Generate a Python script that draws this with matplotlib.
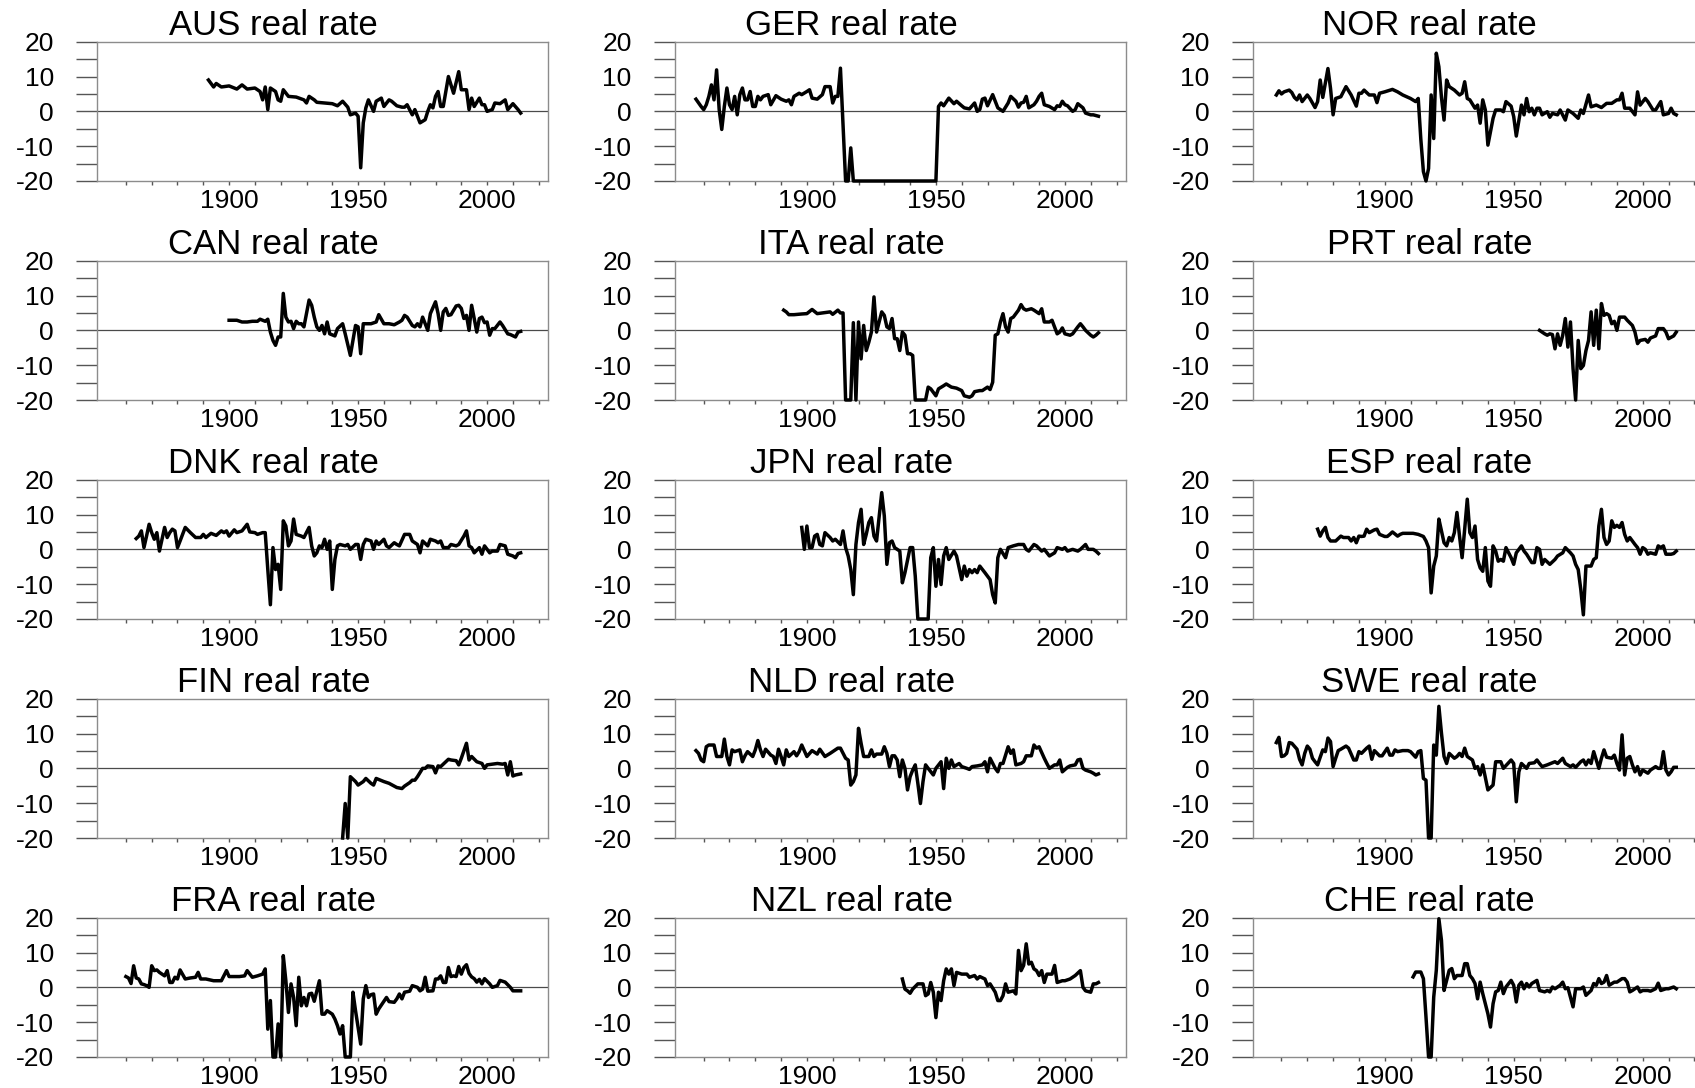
import matplotlib.pyplot as plt

plt.rcParams['font.family'] = ['Liberation Sans', 'DejaVu Sans']
plt.rcParams['axes.unicode_minus'] = False

# (year, real rate in %); values below -20 sit on the axis floor
aus = [(1892, 9), (1894, 7), (1895, 8), (1897, 7), (1900, 7.3), (1903, 6.4), (1905, 7.6), (1907, 6.4),
       (1910, 6.7), (1912, 5.7), (1913, 3.3), (1914, 7), (1915, 0.5), (1916, 6.7), (1918, 5.7), (1919, 3.3),
       (1920, 2.9), (1921, 6.2), (1923, 4.3), (1926, 4.1), (1929, 3.3), (1930, 2.4), (1931, 4.3), (1933, 3.3),
       (1934, 2.6), (1937, 2.4), (1940, 2.2), (1942, 1.6), (1944, 2.9), (1946, 1.2), (1947, -1), (1949, -0.5),
       (1950, -1.4), (1951, -16.2), (1952, -3.3), (1953, 1), (1954, 3.3), (1956, 0), (1957, 2.9), (1959, 3.8),
       (1960, 1.4), (1962, 3.3), (1963, 2.9), (1965, 1.6), (1967, 1.2), (1968, 1.2), (1969, 1.9), (1971, -1),
       (1972, 0.5), (1974, -3.3), (1976, -2.4), (1977, 0), (1978, 1.9), (1979, 1), (1980, 4.3), (1981, 5.7),
       (1982, 1.4), (1983, 1.4), (1985, 10), (1987, 5.2), (1989, 11.4), (1990, 6.2), (1992, 6.2), (1993, 0.5),
       (1994, 3.8), (1995, 1.4), (1997, 3.8), (1998, 1.9), (1999, 1.9), (2000, 0), (2002, 0.5), (2003, 2.4),
       (2005, 2.2), (2007, 3.3), (2008, 0.5), (2010, 2.2), (2012, 0.5), (2013, -0.5)]

can = [(1900, 2.9), (1903, 2.9), (1905, 2.4), (1907, 2.4), (1909, 2.6), (1911, 2.6), (1912, 3.2), (1914, 2.6),
       (1915, 3.2), (1916, -0.5), (1917, -2.9), (1918, -4.3), (1919, -1.9), (1920, -1.9), (1921, 10.6),
       (1922, 3.8), (1923, 2.4), (1924, 2.6), (1925, 0.5), (1926, 2.6), (1927, 1.9), (1928, 1.9), (1929, 1),
       (1931, 8.7), (1932, 7.2), (1933, 3.8), (1934, 1), (1935, 0), (1936, 1.4), (1937, -1), (1938, 2.4),
       (1939, -1), (1941, -1.6), (1942, 0.5), (1944, 1.9), (1945, -1), (1947, -7.2), (1949, 1.4), (1950, 1),
       (1951, -6.7), (1952, 1.9), (1953, 1.9), (1955, 1.9), (1957, 2.4), (1958, 4.5), (1960, 1.9), (1962, 1.9),
       (1964, 1.6), (1966, 2.4), (1967, 2.9), (1968, 4.3), (1969, 3.8), (1971, 1.4), (1972, 1), (1973, 1.9),
       (1974, 1), (1975, 3.8), (1977, 0), (1978, 4.8), (1980, 8.2), (1981, 4.8), (1982, 0), (1983, 5.3),
       (1984, 6.3), (1985, 4.3), (1986, 4.5), (1988, 7), (1989, 7.2), (1990, 6.3), (1991, 3.4), (1992, 4.3),
       (1993, 0), (1994, 7.2), (1995, 3.4), (1996, -0.5), (1997, 3.4), (1998, 3.8), (1999, 2.2), (2000, 2.4),
       (2001, -1.4), (2002, 0.5), (2003, 0.5), (2005, 2.4), (2006, 1.4), (2008, -1), (2009, -1.2), (2011, -1.9),
       (2012, -0.5), (2013, -0.3)]

dnk = [(1864, 3.1), (1865, 3.8), (1866, 5.3), (1867, 0.5), (1868, 3.8), (1869, 7.2), (1870, 4.8), (1871, 2.9),
       (1872, 4.8), (1873, -0.5), (1874, 2.9), (1875, 6.3), (1876, 3.4), (1877, 4.8), (1878, 5.8), (1879, 5.3),
       (1880, 0.5), (1881, 2.4), (1883, 6.3), (1885, 4.8), (1887, 3.4), (1889, 3.4), (1890, 4.3), (1891, 3.4),
       (1893, 4.6), (1895, 4), (1897, 5.3), (1898, 4.8), (1899, 5.3), (1900, 3.8), (1902, 5.6), (1903, 4.8),
       (1905, 5.3), (1907, 7.2), (1908, 5), (1910, 4.8), (1911, 4.3), (1913, 4.8), (1914, 4.8), (1915, -5.8),
       (1916, -15.9), (1917, 0.5), (1918, -5.8), (1919, -4.3), (1920, -11.5), (1921, 8.2), (1922, 6.7),
       (1923, 1), (1924, 2.4), (1925, 8.7), (1926, 4.3), (1928, 3.8), (1929, 3.4), (1931, 6.3), (1932, 1),
       (1933, -1.9), (1934, -1), (1935, 1), (1936, 0.5), (1937, 2.9), (1938, 0), (1939, 2.4), (1940, -11.5),
       (1941, -2.9), (1942, 1), (1943, 1.4), (1945, 1), (1946, 1.4), (1947, 0), (1949, 1.4), (1950, 1.4),
       (1951, -2.9), (1952, 1.4), (1953, 2.9), (1955, 2.4), (1956, 0), (1957, 2.4), (1958, 1.4), (1960, 2.9),
       (1961, 1), (1962, 0.5), (1964, 1.9), (1965, 1.4), (1966, 1), (1968, 4.3), (1970, 4.3), (1971, 2.4),
       (1973, 1.4), (1974, -1), (1975, 2.4), (1977, 1), (1978, 2.9), (1980, 2.4), (1981, 1.9), (1982, 2.4),
       (1983, 0.5), (1985, 0.5), (1986, 1.4), (1988, 1), (1989, 1.4), (1991, 3.8), (1992, 5.3), (1993, 1),
       (1994, 0.5), (1995, -1), (1997, 0.5), (1998, -1.4), (1999, 1), (2001, -1), (2002, -0.5), (2004, -0.5),
       (2005, 1.4), (2007, 1), (2008, -1.4), (2010, -1.9), (2011, -2.4), (2012, -1.2), (2013, -1)]

fin = [(1944, -20), (1945, -10.1), (1946, -20), (1947, -2.4), (1949, -3.8), (1950, -4.8), (1952, -3.8),
       (1953, -2.9), (1955, -4.3), (1956, -4.8), (1957, -2.9), (1960, -3.8), (1962, -4.3), (1964, -5.1),
       (1965, -5.5), (1967, -5.8), (1968, -5.1), (1970, -4.1), (1971, -3.4), (1972, -3.4), (1973, -2.4),
       (1975, 0), (1976, 0), (1977, 0.7), (1979, 0.5), (1980, -1.3), (1981, 0.7), (1982, 0.5), (1984, 1.9),
       (1985, 2.6), (1986, 2.4), (1988, 2.2), (1989, 1), (1990, 2.9), (1992, 7.2), (1993, 2.4), (1994, 3.4),
       (1996, 1.9), (1998, 1.4), (1999, 0), (2000, 1), (2002, 1.2), (2004, 1.4), (2006, 1.2), (2007, 1.4),
       (2008, -1.9), (2009, 1.9), (2010, -2.2), (2011, -1.9), (2013, -1.6)]

fra = [(1860, 3.1), (1861, 2.7), (1862, 1.1), (1863, 6.2), (1864, 2.7), (1865, 2.4), (1866, 1), (1867, 0.8),
       (1868, 0.5), (1869, 0), (1870, 6.2), (1871, 4.8), (1872, 5), (1873, 4.3), (1875, 3.3), (1876, 4.8),
       (1877, 1.4), (1878, 1.4), (1879, 2.9), (1880, 2.4), (1881, 5), (1883, 2.4), (1885, 2.7), (1887, 2.9),
       (1888, 4.3), (1889, 2.4), (1891, 2.4), (1894, 1.9), (1897, 1.9), (1899, 4.8), (1900, 3.1), (1904, 3.1),
       (1906, 3.3), (1907, 4.8), (1909, 2.9), (1911, 3.3), (1913, 3.8), (1914, 5.3), (1915, -12), (1916, -3.8),
       (1917, -20), (1918, -20), (1919, -10.5), (1920, -20), (1921, 9.1), (1922, 1.9), (1923, -7.2), (1924, 1),
       (1925, -2.9), (1926, -11), (1927, 2.9), (1928, -5.3), (1929, -2.9), (1930, -5.3), (1931, -1.9),
       (1932, -1.7), (1933, -4), (1935, 1.9), (1936, -7.7), (1937, -7.7), (1938, -6.7), (1940, -7.7),
       (1941, -9.1), (1942, -11), (1943, -13.4), (1944, -11), (1945, -20), (1947, -20), (1948, -1.4),
       (1949, -6.7), (1951, -16.3), (1952, -3.3), (1953, 0.5), (1954, -2.9), (1955, -2.1), (1956, -1.9),
       (1957, -7.7), (1958, -6.2), (1960, -4), (1961, -2.9), (1962, -4.1), (1964, -4.3), (1965, -3.3),
       (1966, -1.9), (1967, -3.3), (1968, -1.4), (1970, -1.1), (1971, 0.5), (1973, 0), (1974, -1), (1975, -0.5),
       (1976, 2.9), (1977, -1.1), (1979, -1), (1980, 2.4), (1981, 2.4), (1982, 3.3), (1983, 1.4), (1984, 1.4),
       (1985, 5.7), (1986, 3.1), (1987, 3.3), (1988, 3.1), (1989, 6), (1990, 3.8), (1991, 5.7), (1992, 6.5),
       (1993, 4), (1994, 3), (1995, 2.5), (1996, 1.5), (1997, 2.3), (1998, 1), (1999, 2.5), (2001, 1),
       (2002, 0), (2004, 0.5), (2005, 2), (2007, 1.5), (2009, 0), (2010, -1), (2012, -1), (2013, -1)]

ger = [(1857, 3.5), (1859, 1.4), (1860, 0.5), (1861, 1.9), (1862, 4.3), (1863, 7.6), (1864, 3.3), (1865, 11.9),
       (1866, 0.5), (1867, -5.2), (1868, 1.4), (1869, 6.7), (1870, 1.9), (1871, 0.5), (1872, 4.3), (1873, -1),
       (1874, 4.8), (1875, 6.7), (1876, 3.3), (1877, 3.3), (1878, 5.7), (1879, 1.4), (1880, 1.4), (1881, 4.3),
       (1882, 3.3), (1883, 4.3), (1885, 4.8), (1886, 1.9), (1888, 4.5), (1890, 3.5), (1892, 2.9), (1893, 3.3),
       (1894, 1.9), (1895, 4.3), (1897, 5.2), (1898, 4.8), (1900, 5.7), (1901, 6.2), (1902, 3.8), (1904, 3.5),
       (1906, 4.8), (1907, 7.1), (1909, 7.1), (1910, 2.4), (1911, 4.3), (1912, 4.3), (1913, 12.4), (1915, -20),
       (1916, -20), (1917, -10.5), (1918, -20), (1950, -20), (1951, 1.4), (1952, 2.4), (1953, 1.6), (1955, 3.8),
       (1957, 2.2), (1958, 2.9), (1960, 1.6), (1961, 1), (1963, 0.7), (1965, 2.4), (1966, 0), (1967, 0.5),
       (1968, 3.5), (1969, 3.8), (1970, 1.6), (1972, 4.8), (1973, 2.9), (1974, 1), (1976, 0), (1978, 2.4),
       (1979, 4.3), (1981, 2.9), (1982, 1.2), (1983, 2.4), (1984, 2.6), (1985, 4.3), (1986, 1), (1988, 1.9),
       (1989, 2.9), (1990, 4.3), (1991, 5.2), (1992, 1.9), (1994, 1.4), (1996, 0.5), (1997, 1.6), (1998, 1.4),
       (1999, 2.9), (2000, 1.9), (2001, 1.6), (2003, 0), (2004, 0.5), (2005, 2.2), (2007, 1), (2008, -0.5),
       (2010, -1), (2011, -1), (2013, -1.4)]

ita = [(1891, 5.8), (1892, 5.3), (1893, 4.5), (1895, 4.5), (1898, 4.7), (1900, 4.8), (1902, 6), (1904, 4.8),
       (1907, 5.1), (1909, 5.3), (1910, 4.6), (1912, 5.8), (1913, 5), (1914, 5), (1915, -20), (1917, -20),
       (1918, 2.2), (1919, -20), (1920, 2.4), (1921, -8.2), (1922, 1.4), (1923, -5.8), (1924, -3.4),
       (1925, -0.5), (1926, 9.6), (1927, -0.5), (1929, 5.3), (1930, 4.3), (1931, 1), (1932, 0.5), (1933, 3.4),
       (1934, -2.4), (1935, -2.4), (1936, -5.8), (1937, -0.5), (1938, -1.4), (1939, -6.7), (1940, -6.7),
       (1941, -7.2), (1942, -20), (1946, -20), (1947, -16.3), (1948, -16.8), (1950, -18.8), (1951, -16.8),
       (1953, -15.9), (1954, -15.4), (1956, -16.3), (1958, -16.6), (1960, -17.3), (1961, -18.8), (1963, -19.2),
       (1964, -18.8), (1965, -17.6), (1967, -17.3), (1968, -17.3), (1970, -16.3), (1971, -17), (1972, -14.9),
       (1973, -1.4), (1974, -1), (1975, 2.4), (1976, 4.8), (1977, 1), (1978, -0.5), (1979, 3.4), (1980, 3.8),
       (1982, 5.8), (1983, 7.4), (1984, 6.2), (1985, 5.8), (1987, 6.2), (1988, 5.8), (1990, 4.8), (1991, 6.2),
       (1992, 2.4), (1994, 2.4), (1995, 2.9), (1997, -1), (1998, -0.5), (1999, 0.7), (2000, -1), (2002, -1.4),
       (2003, -1), (2005, 1), (2006, 1.9), (2007, 1), (2008, 0), (2010, -1.4), (2011, -1.9), (2012, -1.4),
       (2013, -0.7)]

jpn = [(1898, 6.3), (1899, 0), (1900, 6.7), (1901, 0.5), (1902, 0.5), (1903, 3.8), (1904, 4.3), (1905, 1.4),
       (1906, 1), (1907, 4.8), (1909, 3.4), (1910, 2.4), (1911, 2.9), (1913, 1.4), (1914, 5.3), (1915, 0.5),
       (1916, -1.9), (1917, -5.8), (1918, -13), (1919, 1.4), (1920, 7.7), (1921, 11.5), (1922, 1.4), (1923, 4.3),
       (1924, 7.7), (1925, 9.1), (1926, 3.8), (1927, 2.4), (1929, 16.3), (1930, 9.6), (1931, -4.3), (1932, 1.9),
       (1933, 2.4), (1934, 0.5), (1936, -0.5), (1937, -9.6), (1938, -6.7), (1940, 0.5), (1941, 0.5),
       (1942, -7.7), (1943, -20), (1947, -20), (1948, -2.4), (1949, 0.5), (1950, -10.6), (1951, -2.9),
       (1952, -10.1), (1953, -1.9), (1954, 0.5), (1955, -2.9), (1957, -0.5), (1958, -1.9), (1960, -8.7),
       (1961, -4.8), (1962, -7.7), (1963, -5.8), (1964, -6.7), (1965, -5.8), (1966, -6.7), (1967, -4.8),
       (1969, -6.7), (1970, -7.7), (1971, -8.7), (1972, -13), (1973, -15.4), (1974, -2.4), (1975, 0),
       (1977, -2.4), (1978, 0.5), (1980, 1), (1982, 1.4), (1984, 1.4), (1985, 0), (1986, -0.5), (1988, 1.4),
       (1989, 1), (1991, -0.5), (1992, 0), (1994, -1.9), (1996, -1), (1997, 0.5), (1999, 0), (2000, 0.5),
       (2001, -0.5), (2003, 0), (2005, -0.5), (2006, 0), (2008, 1.4), (2009, 0), (2011, 0), (2012, -0.5),
       (2013, -1.2)]

nld = [(1857, 5.1), (1858, 4.3), (1859, 2.4), (1860, 1.9), (1861, 6.2), (1862, 6.7), (1864, 6.7), (1865, 3.4),
       (1867, 3.4), (1868, 8.4), (1869, 3.4), (1870, 1), (1871, 5.3), (1872, 4.8), (1874, 5.3), (1875, 1.9),
       (1876, 3.6), (1877, 4.8), (1879, 3.4), (1880, 5.3), (1881, 8), (1882, 5.3), (1883, 3.4), (1884, 5.5),
       (1886, 3.8), (1887, 3.4), (1888, 1.4), (1889, 5.5), (1890, 3.4), (1891, 1), (1892, 5.3), (1893, 3.4),
       (1895, 4.8), (1896, 3.6), (1897, 4.8), (1898, 6.7), (1900, 3.4), (1902, 5.1), (1904, 4.1), (1905, 5.5),
       (1907, 3.4), (1909, 4.3), (1910, 4.8), (1912, 5.8), (1913, 5.8), (1915, 2.9), (1916, 2.4), (1917, -4.8),
       (1918, -3.8), (1919, -1.9), (1920, 11.5), (1921, 7.2), (1922, 3.4), (1924, 3.4), (1925, 5.3), (1926, 3.4),
       (1927, 4.1), (1929, 4.1), (1930, 6.2), (1931, 4.3), (1932, 0.5), (1933, 3.6), (1934, 3.6), (1935, 2.4),
       (1936, -2.4), (1937, 2.4), (1938, 0), (1939, -6.2), (1940, -2.4), (1941, -0.5), (1942, 1), (1943, -4.3),
       (1944, -10.1), (1945, -3.8), (1946, 1), (1947, 0), (1949, -1.9), (1950, 0), (1952, 1.9), (1953, -5.8),
       (1954, 2.9), (1955, 0), (1956, 2.4), (1957, 0.5), (1959, 1.4), (1960, 0.5), (1962, 0), (1963, -0.3),
       (1964, 0.5), (1966, 0.7), (1968, 1), (1969, 1.9), (1970, -1), (1971, 2.9), (1973, 0), (1974, -1),
       (1975, 1.4), (1976, 1.4), (1978, 6.2), (1979, 4.3), (1980, 5.3), (1981, 1), (1983, 1.4), (1984, 1.9),
       (1985, 3.6), (1987, 3.6), (1988, 6.7), (1989, 5.8), (1990, 6.2), (1992, 2.9), (1993, 1.4), (1994, 0),
       (1996, 1), (1997, 1), (1998, 2.4), (1999, -1), (2001, 0.3), (2002, 0.7), (2004, 1), (2005, 2.4),
       (2006, 2.6), (2007, 0), (2008, -0.5), (2010, -1), (2011, -1.4), (2012, -1.9), (2013, -1.6)]

nzl = [(1937, 2.4), (1938, -0.5), (1939, -1), (1940, -1.7), (1941, -0.5), (1943, 1), (1945, 1), (1946, -2.4),
       (1947, -1.9), (1948, 1.4), (1949, -1.4), (1950, -8.7), (1951, -1.4), (1952, -3.8), (1953, 1.9),
       (1954, 5.3), (1955, 3.8), (1956, 5.3), (1957, 0.5), (1958, 4.3), (1960, 3.8), (1962, 3.8), (1963, 2.9),
       (1965, 3.4), (1966, 2.4), (1967, 3.1), (1969, 2.4), (1970, 0.5), (1971, 1), (1973, -1.4), (1974, -3.8),
       (1975, -3.8), (1976, -2.4), (1977, 1), (1978, -1.4), (1980, -1), (1981, -1.9), (1982, 10.6), (1983, 4.8),
       (1984, 6.3), (1985, 12.5), (1986, 6.7), (1987, 7.2), (1988, 5.3), (1989, 4.8), (1990, 3.4), (1991, 4.8),
       (1992, 1.4), (1993, 3.8), (1995, 3.8), (1996, 6.3), (1997, 1.4), (1999, 1.9), (2000, 1.9), (2002, 2.4),
       (2004, 3.4), (2006, 4.8), (2007, 0), (2008, -1), (2010, -1.4), (2011, 1), (2012, 1), (2013, 1.4)]

nor = [(1858, 4.7), (1859, 5.9), (1860, 5), (1861, 5.6), (1863, 6.1), (1864, 5.4), (1865, 4), (1866, 3.3),
       (1867, 4.7), (1868, 2.8), (1870, 4.7), (1871, 3.7), (1873, 1.1), (1874, 2.8), (1875, 9), (1876, 4),
       (1878, 12.3), (1879, 6.6), (1880, -1), (1881, 3.7), (1883, 4.2), (1885, 7.1), (1887, 4.7), (1889, 1.5),
       (1890, 5.2), (1891, 5.2), (1892, 6.1), (1894, 4.7), (1896, 4.7), (1897, 2.5), (1898, 5.2), (1900, 5.6),
       (1903, 6.3), (1905, 5.6), (1907, 4.7), (1910, 3.7), (1912, 2.8), (1913, 3.7), (1914, -8), (1915, -17.3),
       (1916, -20), (1917, -16.4), (1918, 4.7), (1919, -7.8), (1920, 16.7), (1921, 12.8), (1922, 4),
       (1923, -2.5), (1924, 9), (1925, 7.1), (1927, 6.1), (1929, 4.7), (1930, 5.2), (1931, 8.5), (1932, 3.7),
       (1933, 3.3), (1935, 0.9), (1936, 1.8), (1937, -3.4), (1938, 3.3), (1939, 0.4), (1940, -9.7), (1942, -2),
       (1943, 0.4), (1945, 0.4), (1946, -0.1), (1947, 2.8), (1949, 1.5), (1950, -1.5), (1951, -7.1), (1953, 1.8),
       (1954, -1), (1955, 3.7), (1956, -0.1), (1957, 0.9), (1958, -1), (1959, 0.9), (1960, 0.9), (1961, -1),
       (1963, -0.1), (1964, -1.7), (1965, -0.6), (1967, -1), (1968, 0.4), (1970, -2.5), (1971, 0.4),
       (1973, -0.6), (1975, -2), (1976, 0.4), (1977, -0.6), (1979, 4.7), (1980, 1.3), (1982, 1.8), (1984, 1.1),
       (1986, 2.3), (1988, 2.3), (1990, 3.3), (1991, 3.3), (1992, 5.2), (1993, 0.9), (1995, 0.9), (1997, -1),
       (1998, 5.6), (1999, 1.8), (2001, 3.7), (2002, 2.8), (2004, 0.4), (2005, 0.4), (2007, 2.8), (2008, -1),
       (2010, -0.6), (2011, 0.9), (2012, -0.6), (2013, -1)]

prt = [(1960, 0), (1961, -0.5), (1962, -1), (1963, -1.4), (1964, -1), (1965, -1.2), (1966, -5.3), (1967, -1),
       (1968, -4.3), (1969, -1.4), (1970, 3.4), (1971, -4.8), (1972, 2.4), (1973, -11), (1974, -20),
       (1975, -2.9), (1976, -11), (1977, -10.1), (1978, -5.8), (1979, -2.9), (1980, 5.3), (1981, -4.3),
       (1982, 5.8), (1983, -5.3), (1984, 7.7), (1985, 4.3), (1986, 4.8), (1987, 4.3), (1988, 1.9), (1989, 2.6),
       (1990, 0), (1991, 3.8), (1993, 3.8), (1994, 2.9), (1996, 1.4), (1997, -0.5), (1998, -3.8), (1999, -2.9),
       (2001, -2.6), (2002, -3.4), (2003, -2.2), (2005, -1.6), (2006, 0.5), (2008, 0.5), (2009, -0.5),
       (2010, -2.4), (2012, -1.6), (2013, -0.5)]

esp = [(1874, 5.8), (1875, 3.8), (1876, 5.3), (1877, 6.3), (1878, 3.4), (1879, 2.4), (1881, 2.4), (1882, 3.1),
       (1883, 3.8), (1884, 3.4), (1886, 3.4), (1887, 2.4), (1888, 3.4), (1889, 1.9), (1890, 3.8), (1891, 3.7),
       (1892, 3.8), (1893, 5.8), (1894, 4.8), (1896, 5.6), (1897, 5.8), (1898, 4.3), (1900, 3.7), (1901, 3.7),
       (1902, 4.3), (1903, 5), (1905, 3.8), (1906, 4.3), (1907, 4.6), (1909, 4.6), (1911, 4.6), (1913, 4.3),
       (1915, 3.7), (1916, 2.4), (1917, 0.5), (1918, -12.5), (1919, -4.8), (1920, -1.9), (1921, 8.7),
       (1922, 5.3), (1923, 1.9), (1924, 1), (1925, 3.4), (1926, 2.4), (1927, 4.8), (1928, 10.6), (1929, 3.8),
       (1930, -2.4), (1931, 5.8), (1932, 14.4), (1933, 4.8), (1934, 3.4), (1935, 6.7), (1936, -2.9),
       (1937, -5.3), (1938, -6.3), (1939, 0.5), (1940, -9.1), (1941, -10.6), (1942, 1), (1943, -0.5),
       (1944, -3.4), (1945, -2.9), (1946, -3.4), (1947, 0.5), (1949, -2.4), (1950, -4.3), (1951, -1), (1953, 1),
       (1954, -0.5), (1955, -1.4), (1957, -3.8), (1958, -3.8), (1959, 0.5), (1960, 0), (1961, -4.3),
       (1962, -2.9), (1964, -4.3), (1966, -2.9), (1967, -1.9), (1969, -1), (1970, 0.5), (1972, -1), (1973, -1.9),
       (1974, -4.3), (1975, -5.8), (1976, -11.5), (1977, -18.8), (1978, -4.8), (1980, -4.8), (1981, -2.9),
       (1982, -2.4), (1983, 6.7), (1984, 11.5), (1985, 3.4), (1986, 1.4), (1987, 2.4), (1988, 8.2), (1989, 6.3),
       (1990, 6.9), (1991, 6.3), (1992, 7.7), (1993, 4.3), (1994, 2.4), (1995, 3.4), (1996, 2.4), (1997, 1.4),
       (1998, 0.5), (1999, -1.4), (2000, 0.5), (2001, 0), (2002, -1.4), (2003, -1), (2004, -1.2), (2005, -1.4),
       (2006, 1), (2007, 0.5), (2008, 1), (2009, -1.4), (2011, -1.4), (2012, -1.2), (2013, -0.5)]

swe = [(1858, 7.4), (1859, 8.9), (1860, 3.4), (1861, 3.6), (1862, 4.3), (1863, 7.4), (1864, 7.2), (1866, 5.5),
       (1867, 2.6), (1868, 1), (1869, 4.3), (1870, 6.4), (1871, 5.5), (1872, 2.9), (1873, 1.9), (1874, 1),
       (1875, 3.2), (1876, 5.3), (1877, 4.8), (1878, 8.7), (1879, 7.7), (1880, 0.5), (1881, 2.9), (1882, 5.1),
       (1883, 5.5), (1885, 6.4), (1886, 5.8), (1888, 2.4), (1889, 2.4), (1890, 4.8), (1891, 4.3), (1893, 5.8),
       (1894, 6.4), (1895, 2.6), (1896, 5.1), (1898, 3.6), (1899, 3.6), (1901, 5.8), (1902, 3.8), (1903, 3.8),
       (1904, 5.3), (1905, 4.8), (1907, 5.1), (1909, 5.1), (1910, 4.8), (1912, 3.2), (1913, 4.8), (1914, 5.1),
       (1915, -2.9), (1916, -3.4), (1917, -20), (1918, -20), (1919, 6.7), (1920, 3.8), (1921, 17.8),
       (1922, 10.1), (1923, 3.4), (1924, 1.4), (1925, 4.3), (1927, 2.9), (1928, 3.4), (1929, 4.3), (1930, 3.4),
       (1931, 5.8), (1932, 3.4), (1934, 2.4), (1935, 0), (1936, 0.5), (1937, -1.9), (1938, 1), (1940, -6.2),
       (1942, -4.8), (1943, 1.9), (1945, 1.9), (1946, 0), (1948, 1.6), (1949, 2.4), (1950, 1.4), (1951, -9.6),
       (1952, -1), (1953, 1.4), (1955, 0), (1956, 1.4), (1958, 1.6), (1959, 2.4), (1960, 1.4), (1961, 0.5),
       (1963, 1), (1964, 1.3), (1966, 1.9), (1967, 1.4), (1969, 2.9), (1970, 1.4), (1972, 0.5), (1973, 1),
       (1974, 0.3), (1976, 1.9), (1977, 2.4), (1978, 1), (1979, 2.4), (1980, 1.4), (1981, 4.8), (1983, 0),
       (1984, 2.9), (1985, 5.3), (1986, 3.2), (1988, 2.9), (1989, 3.8), (1990, 1.4), (1991, -0.5), (1992, 9.6),
       (1993, -1.9), (1994, 2.9), (1995, 3.4), (1996, 1), (1997, -1), (1998, 0.5), (1999, -1.9), (2000, -0.5),
       (2002, -1.4), (2003, -0.5), (2005, 0.5), (2006, 0), (2007, 0), (2008, 4.8), (2009, -0.5), (2010, -1.9),
       (2011, -1), (2012, 0.3), (2013, 0.3)]

che = [(1911, 3), (1912, 4.4), (1914, 4.4), (1915, 2.5), (1916, -8.5), (1917, -20), (1918, -20), (1919, -2.8),
       (1920, 4.9), (1921, 19.7), (1922, 13.5), (1923, -0.9), (1924, 2), (1925, 4.9), (1926, 5.4), (1927, 2.5),
       (1928, 3.4), (1930, 3.4), (1931, 6.8), (1932, 6.8), (1933, 3.4), (1934, 2.5), (1935, 1.1), (1936, -3.3),
       (1937, 1.5), (1938, -1.8), (1940, -7.6), (1941, -11.4), (1942, -4.7), (1943, -1.3), (1944, -0.9),
       (1945, 1.5), (1946, -1.8), (1947, 0.1), (1949, 2), (1950, 0.6), (1951, -4.2), (1952, 0.6), (1953, 1.5),
       (1954, -0.4), (1955, 1.1), (1956, 0.1), (1957, 1.1), (1959, 2), (1960, -0.9), (1962, -1.3), (1963, -0.9),
       (1964, -1.3), (1965, 0.1), (1966, -0.4), (1968, 0.6), (1969, 1.5), (1970, -0.4), (1971, -0.1),
       (1973, -5.6), (1974, -0.4), (1976, -0.4), (1977, 0.1), (1978, -2.3), (1980, -0.9), (1981, 1.1),
       (1982, 0.6), (1983, 2.5), (1984, 1.1), (1985, 1.5), (1986, 3.4), (1987, 0.6), (1989, 1.5), (1990, 1.5),
       (1992, 2.5), (1993, 2.5), (1994, 1.5), (1995, -1.3), (1996, -0.9), (1998, 0.1), (1999, -1.3),
       (2000, -0.9), (2002, -0.9), (2003, -1.1), (2005, -0.4), (2006, 1.2), (2007, -0.9), (2009, -0.4),
       (2010, -0.4), (2012, 0.1), (2013, -0.4)]

# panel order, column by column
columns = [["AUS", "CAN", "DNK", "FIN", "FRA"],
           ["GER", "ITA", "JPN", "NLD", "NZL"],
           ["NOR", "PRT", "ESP", "SWE", "CHE"]]
series = {"AUS": aus, "CAN": can, "DNK": dnk, "FIN": fin, "FRA": fra,
          "GER": ger, "ITA": ita, "JPN": jpn, "NLD": nld, "NZL": nzl,
          "NOR": nor, "PRT": prt, "ESP": esp, "SWE": swe, "CHE": che}

W, H = 1695, 1088
fig = plt.figure(figsize=(W / 100, H / 100), dpi=100)

ax_w, ax_h = 451, 139.3
for c, names in enumerate(columns):
    for r, name in enumerate(names):
        left = 97 + 577.8 * c
        top = 41.7 + 219 * r
        ax = fig.add_axes([left / W, 1 - (top + ax_h) / H, ax_w / W, ax_h / H])

        yrs, vals = zip(*series[name])
        ax.axhline(0, color='#4a4a4a', lw=0.9, zorder=1)
        ax.plot(yrs, vals, color='black', lw=2.5, clip_on=False, zorder=3)

        ax.set_xlim(1848.8, 2023.6)
        ax.set_ylim(-20, 20)
        ax.set_xticks([1900, 1950, 2000])
        ax.set_xticks(range(1860, 2030, 10), minor=True)
        ax.set_yticks([-20, -10, 0, 10, 20])
        ax.set_yticks([-15, -5, 5, 15], minor=True)

        ax.tick_params(axis='x', which='both', direction='out', length=2.9, width=1,
                       color='#555555', labelsize=19, pad=3)
        ax.tick_params(axis='y', which='both', direction='out', length=15, width=1,
                       color='#555555', labelsize=19, pad=16)
        for s in ax.spines.values():
            s.set_color('#8c8c8c')
            s.set_linewidth(1.0)

        ax.text(0.392, 1 + 6.7 / ax_h, name + ' real rate', transform=ax.transAxes,
                ha='center', va='baseline', fontsize=25)

fig.savefig('out.png', dpi=100)
